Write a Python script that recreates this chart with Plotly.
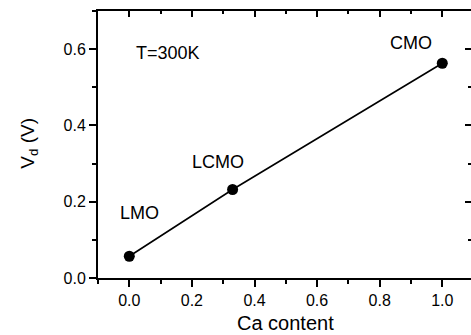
import plotly.graph_objects as go

ca_content = [0.0, 0.33, 1.0]
vd = [0.057, 0.232, 0.563]
labels = ["LMO", "LCMO", "CMO"]
label_x = [0.034, 0.283, 0.90]
label_y = [0.17, 0.305, 0.617]
x_ticks = [0.0, 0.2, 0.4, 0.6, 0.8, 1.0]
y_ticks = [0.0, 0.2, 0.4, 0.6]

xr = [-0.1, 1.0917]
yr = [0.0, 0.70]
font = "Liberation Sans, Arial, sans-serif"

fig = go.Figure()
fig.add_trace(go.Scatter(
    x=ca_content, y=vd, mode="lines+markers",
    line=dict(color="black", width=1.6),
    marker=dict(color="black", size=11),
    showlegend=False,
))
fig.add_trace(go.Scatter(x=[None], y=[None], xaxis="x2", yaxis="y2", showlegend=False))

for lx, ly, t in zip(label_x, label_y, labels):
    fig.add_annotation(x=lx, y=ly, text=t, showarrow=False,
                       font=dict(family=font, size=18, color="black"))
fig.add_annotation(x=0.124, y=0.59, text="T=300K", showarrow=False,
                   font=dict(family=font, size=18, color="black"))

# axis titles
fig.add_annotation(xref="paper", yref="paper", x=-0.185, y=0.507, text="V<sub>d</sub> (V)",
                   textangle=-90, showarrow=False, xanchor="center", yanchor="middle",
                   font=dict(family=font, size=19, color="black"))
fig.add_annotation(xref="paper", yref="paper", x=0.504, y=-0.167, text="Ca content",
                   showarrow=False, xanchor="center", yanchor="middle",
                   font=dict(family=font, size=20, color="black"))

common = dict(showgrid=False, zeroline=False, automargin=False,
              showline=True, linecolor="black", linewidth=2,
              tickcolor="black", tickwidth=1.5)

fig.update_layout(
    width=471, height=335,
    margin=dict(l=98, r=0, t=11, b=57),
    paper_bgcolor="white", plot_bgcolor="white",
    font=dict(family=font, color="black"),
    xaxis=dict(
        range=xr, tickvals=x_ticks, ticktext=[f"{v:.1f}" for v in x_ticks],
        ticks="outside", ticklen=7,
        minor=dict(dtick=0.1, tick0=0, ticks="outside", ticklen=4, tickwidth=1.5, tickcolor="black", showgrid=False),
        tickfont=dict(size=16, family=font), **common,
    ),
    yaxis=dict(
        range=yr, tickvals=y_ticks, ticktext=[f"{v:.1f}" for v in y_ticks],
        ticks="outside", ticklen=7,
        minor=dict(dtick=0.1, tick0=0, ticks="outside", ticklen=4, tickwidth=1.5, tickcolor="black", showgrid=False),
        tickfont=dict(size=16, family=font), **common,
    ),
    xaxis2=dict(
        overlaying="x", side="top", range=xr, tickvals=x_ticks, showticklabels=False,
        ticks="inside", ticklen=6,
        minor=dict(dtick=0.1, tick0=0, ticks="inside", ticklen=3, tickwidth=1.5, tickcolor="black", showgrid=False),
        **common,
    ),
    yaxis2=dict(
        overlaying="y", side="right", range=yr, tickvals=y_ticks, showticklabels=False,
        ticks="inside", ticklen=6,
        minor=dict(dtick=0.1, tick0=0, ticks="inside", ticklen=3, tickwidth=1.5, tickcolor="black", showgrid=False),
        **common,
    ),
)

fig.write_html("out.html", post_script="document.body.style.margin='0';",
               config={"displayModeBar": False})
